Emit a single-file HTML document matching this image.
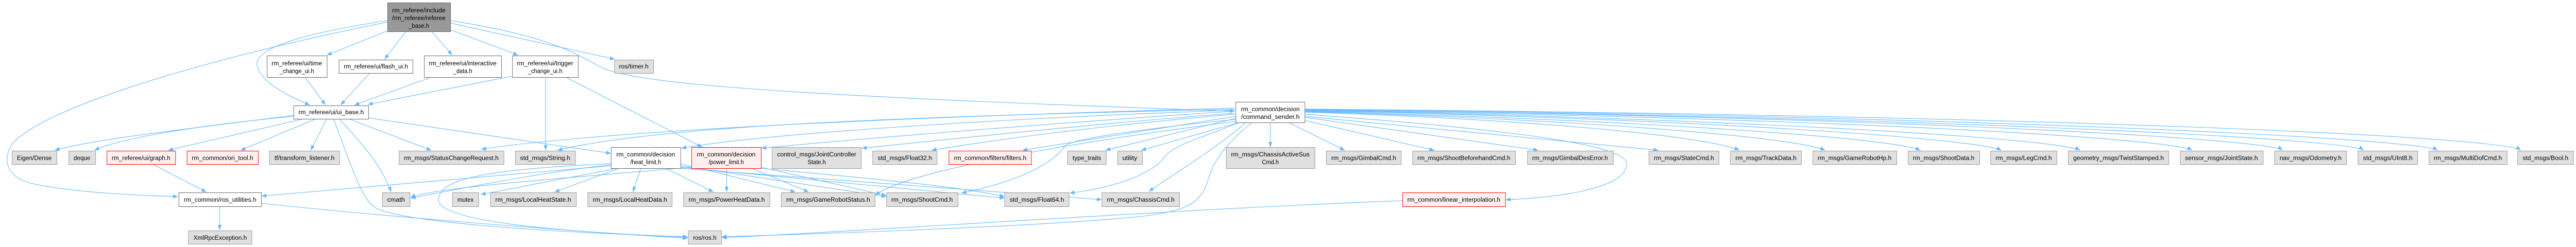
<!DOCTYPE html>
<html><head><meta charset="utf-8"><style>
html,body{margin:0;padding:0;background:#fff;width:100%;height:100%;overflow:hidden;}
svg{display:block;width:100%;height:100%;overflow:hidden;}
text{font-family:"Liberation Sans",Arial,sans-serif;font-size:12px;fill:#000;text-anchor:middle;}
.e{fill:none;stroke:#63b8ff;stroke-width:1.1;marker-end:url(#a);}
.w{fill:#fff;stroke:#666;}
.g{fill:#e0e0e0;stroke:#999;}
.r{fill:#fff0f0;stroke:#f00;}
.k{fill:#999;stroke:#666;}
</style></head><body>
<svg viewBox="0 0 5406 480" preserveAspectRatio="none" xmlns="http://www.w3.org/2000/svg">
<defs><marker id="a" markerWidth="10" markerHeight="8" refX="10" refY="4" orient="auto" markerUnits="userSpaceOnUse"><path d="M0,0 L10,4 L0,8 Z" fill="#63b8ff"/></marker></defs>

<g>
<path class="e" d="M813,60 L686,107"/>
<path class="e" d="M852,61 L807,115"/>
<path class="e" d="M906,61 L949,107"/>
<path class="e" d="M946,58 L1087,107"/>
<path class="e" d="M946,45 L1290,115"/>
<path class="e" d="M946,40 C1150,70 1200,100 1260,130 C1320,160 1600,185 2591,216"/>
<path class="e" d="M813,40 C600,70 530,100 540,130 C550,160 600,185 650,204"/>
<path class="e" d="M813,43 C500,100 100,200 25,280 C0,320 25,345 60,355 C150,375 300,380 373,382"/>
<path class="e" d="M640,150 L683,204"/>
<path class="e" d="M775,143 L715,204"/>
<path class="e" d="M905,150 L744,204"/>
<path class="e" d="M1075,148 L772,203"/>
<path class="e" d="M1145,150 L1145,292"/>
<path class="e" d="M1187,150 L1474,286"/>
<path class="e" d="M617,224 C400,250 200,270 115,292"/>
<path class="e" d="M617,226 C400,245 250,270 198,292"/>
<path class="e" d="M637,231 L353,292"/>
<path class="e" d="M663,231 L505,292"/>
<path class="e" d="M686,231 L652,292"/>
<path class="e" d="M712,231 C760,280 800,320 821,373"/>
<path class="e" d="M700,231 C740,330 760,390 790,405 C850,430 1100,450 1443,460"/>
<path class="e" d="M732,231 L905,292"/>
<path class="e" d="M773,229 L1282,298"/>
<path class="e" d="M322,320 L433,373"/>
<path class="e" d="M461,401 L461,447"/>
<path class="e" d="M548,395 C800,420 1200,450 1443,463"/>
<path class="e" d="M1296,327 L1009,378"/>
<path class="e" d="M1300,327 L1164,373"/>
<path class="e" d="M1345,327 L1328,373"/>
<path class="e" d="M1397,327 L1497,373"/>
<path class="e" d="M1428,318 L1669,373"/>
<path class="e" d="M1282,322 C1000,345 700,370 549,381"/>
<path class="e" d="M1282,320 C1100,340 950,370 862,385"/>
<path class="e" d="M1282,318 C1000,330 920,350 920,390 C930,440 1300,455 1443,461"/>
<path class="e" d="M1428,322 L1860,382"/>
<path class="e" d="M1428,325 L2108,385"/>
<path class="e" d="M1428,327 L2312,388"/>
<path class="e" d="M1525,327 L1525,373"/>
<path class="e" d="M1577,327 L1697,373"/>
<path class="e" d="M1451,325 C1200,345 900,365 862,384"/>
<path class="e" d="M1597,325 L1860,380"/>
<path class="e" d="M1597,327 C1800,345 2000,360 2108,382"/>
<path class="e" d="M2591,212 C2000,225 1400,240 1170,292"/>
<path class="e" d="M2591,210 C2000,225 1300,250 1010,290"/>
<path class="e" d="M2591,214 C2100,230 1600,260 1430,288"/>
<path class="e" d="M2591,216 C2200,240 1800,270 1598,288"/>
<path class="e" d="M2591,220 C2300,240 2000,270 1809,288"/>
<path class="e" d="M2591,222 C2300,245 2100,270 1955,292"/>
<path class="e" d="M2593,226 L2146,292"/>
<path class="e" d="M2593,230 L2320,292"/>
<path class="e" d="M2600,238 L2395,292"/>
<path class="e" d="M2666,238 L2666,286"/>
<path class="e" d="M2593,232 C2400,250 2250,270 2236,283 C2200,330 2100,360 2018,375"/>
<path class="e" d="M2600,238 C2520,270 2460,280 2440,310 C2400,350 2300,370 2245,375"/>
<path class="e" d="M2615,238 C2550,290 2460,340 2411,372"/>
<path class="e" d="M2627,238 C2560,290 2545,320 2535,350 C2520,400 2480,410 2400,420 C2200,440 1700,455 1515,460"/>
<path class="e" d="M2593,236 C2300,270 1900,330 1837,380"/>
<path class="e" d="M2704,238 L2822,292"/>
<path class="e" d="M2738,234 L3010,292"/>
<path class="e" d="M2738,228 L3228,292"/>
<path class="e" d="M2738,226 L3480,292"/>
<path class="e" d="M2738,222 C3150,250 3420,280 3414,320 C3410,370 3250,385 3160,388"/>
<path class="e" d="M2738,218 C3300,235 3600,270 3650,292"/>
<path class="e" d="M2738,217 C3400,235 3780,270 3830,292"/>
<path class="e" d="M2738,216 C3500,235 3980,270 4030,292"/>
<path class="e" d="M2738,215 C3600,232 4150,270 4200,292"/>
<path class="e" d="M2738,214 C3700,232 4320,270 4365,292"/>
<path class="e" d="M2738,214 C3900,230 4560,270 4600,292"/>
<path class="e" d="M2738,213 C4000,228 4760,270 4790,292"/>
<path class="e" d="M2738,213 C4100,228 4930,270 4960,292"/>
<path class="e" d="M2738,212 C4200,226 5080,270 5115,292"/>
<path class="e" d="M2738,212 C4300,224 5250,265 5290,292"/>
<path class="e" d="M2943,390 C2500,405 1800,450 1515,462"/>
</g>

<g>
<rect class="k" x="813.5" y="5.5" width="132" height="56"/>
<text x="879" y="24" textLength="112" lengthAdjust="spacingAndGlyphs">rm_referee/include</text>
<text x="879" y="39" textLength="112" lengthAdjust="spacingAndGlyphs">/rm_referee/referee</text>
<text x="879" y="54">_base.h</text>

<rect class="w" x="560.5" y="108.5" width="126" height="42"/>
<text x="623" y="127" textLength="106" lengthAdjust="spacingAndGlyphs">rm_referee/ui/time</text>
<text x="623" y="142">_change_ui.h</text>
<rect class="w" x="711.5" y="116.5" width="155" height="26"/>
<text x="789" y="133" textLength="135" lengthAdjust="spacingAndGlyphs">rm_referee/ui/flash_ui.h</text>
<rect class="w" x="890.5" y="108.5" width="162" height="42"/>
<text x="971" y="127" textLength="142" lengthAdjust="spacingAndGlyphs">rm_referee/ui/interactive</text>
<text x="971" y="142">_data.h</text>
<rect class="w" x="1075.5" y="108.5" width="138" height="42"/>
<text x="1144" y="127" textLength="118" lengthAdjust="spacingAndGlyphs">rm_referee/ui/trigger</text>
<text x="1144" y="142">_change_ui.h</text>
<rect class="g" x="1289.5" y="116.5" width="82" height="26"/>
<text x="1330" y="133" textLength="62" lengthAdjust="spacingAndGlyphs">ros/timer.h</text>

<rect class="w" x="616.5" y="205.5" width="157" height="26"/>
<text x="695" y="222" textLength="137" lengthAdjust="spacingAndGlyphs">rm_referee/ui/ui_base.h</text>
<rect class="w" x="2593.5" y="198.5" width="145" height="40"/>
<text x="2666" y="216" textLength="123" lengthAdjust="spacingAndGlyphs">rm_common/decision</text>
<text x="2666" y="231" textLength="123" lengthAdjust="spacingAndGlyphs">/command_sender.h</text>

<rect class="g" x="25.5" y="293.5" width="94" height="26"/>
<text x="72" y="311" textLength="73" lengthAdjust="spacingAndGlyphs">Eigen/Dense</text>
<rect class="g" x="144.5" y="293.5" width="56" height="26"/>
<text x="172" y="311" textLength="35" lengthAdjust="spacingAndGlyphs">deque</text>
<rect class="r" x="224.5" y="293.5" width="144" height="26"/>
<text x="296" y="311" textLength="123" lengthAdjust="spacingAndGlyphs">rm_referee/ui/graph.h</text>
<rect class="r" x="392.5" y="293.5" width="150" height="26"/>
<text x="467" y="311" textLength="129" lengthAdjust="spacingAndGlyphs">rm_common/ori_tool.h</text>
<rect class="g" x="565.5" y="293.5" width="147" height="26"/>
<text x="639" y="311" textLength="126" lengthAdjust="spacingAndGlyphs">tf/transform_listener.h</text>
<rect class="g" x="837.5" y="293.5" width="220" height="26"/>
<text x="947" y="311" textLength="199" lengthAdjust="spacingAndGlyphs">rm_msgs/StatusChangeRequest.h</text>
<rect class="g" x="1081.5" y="293.5" width="126" height="26"/>
<text x="1144" y="311" textLength="105" lengthAdjust="spacingAndGlyphs">std_msgs/String.h</text>
<rect class="w" x="1282.5" y="286.5" width="146" height="41"/>
<text x="1355" y="304" textLength="123" lengthAdjust="spacingAndGlyphs">rm_common/decision</text>
<text x="1355" y="319">/heat_limit.h</text>
<rect class="r" x="1451.5" y="286.5" width="146" height="41"/>
<text x="1524" y="304" textLength="123" lengthAdjust="spacingAndGlyphs">rm_common/decision</text>
<text x="1524" y="319">/power_limit.h</text>
<rect class="g" x="1620.5" y="286.5" width="187" height="41"/>
<text x="1714" y="304" textLength="166" lengthAdjust="spacingAndGlyphs">control_msgs/JointController</text>
<text x="1714" y="319">State.h</text>
<rect class="g" x="1831.5" y="293.5" width="135" height="26"/>
<text x="1899" y="311" textLength="114" lengthAdjust="spacingAndGlyphs">std_msgs/Float32.h</text>
<rect class="r" x="1991.5" y="293.5" width="173" height="26"/>
<text x="2078" y="311" textLength="152" lengthAdjust="spacingAndGlyphs">rm_common/filters/filters.h</text>
<rect class="g" x="2240.5" y="293.5" width="81" height="26"/>
<text x="2281" y="311" textLength="60" lengthAdjust="spacingAndGlyphs">type_traits</text>
<rect class="g" x="2345.5" y="293.5" width="52" height="26"/>
<text x="2371" y="311" textLength="31" lengthAdjust="spacingAndGlyphs">utility</text>
<rect class="g" x="2573.5" y="286.5" width="186" height="41"/>
<text x="2666" y="304" textLength="165" lengthAdjust="spacingAndGlyphs">rm_msgs/ChassisActiveSus</text>
<text x="2666" y="319">Cmd.h</text>
<rect class="g" x="2783.5" y="293.5" width="157" height="26"/>
<text x="2862" y="311" textLength="136" lengthAdjust="spacingAndGlyphs">rm_msgs/GimbalCmd.h</text>
<rect class="g" x="2964.5" y="293.5" width="216" height="26"/>
<text x="3072" y="311" textLength="195" lengthAdjust="spacingAndGlyphs">rm_msgs/ShootBeforehandCmd.h</text>
<rect class="g" x="3205.5" y="293.5" width="180" height="26"/>
<text x="3295" y="311" textLength="159" lengthAdjust="spacingAndGlyphs">rm_msgs/GimbalDesError.h</text>
<rect class="g" x="3460.5" y="293.5" width="147" height="26"/>
<text x="3534" y="311" textLength="126" lengthAdjust="spacingAndGlyphs">rm_msgs/StateCmd.h</text>
<rect class="g" x="3631.5" y="293.5" width="149" height="26"/>
<text x="3706" y="311" textLength="128" lengthAdjust="spacingAndGlyphs">rm_msgs/TrackData.h</text>
<rect class="g" x="3804.5" y="293.5" width="176" height="26"/>
<text x="3892" y="311" textLength="155" lengthAdjust="spacingAndGlyphs">rm_msgs/GameRobotHp.h</text>
<rect class="g" x="4004.5" y="293.5" width="150" height="26"/>
<text x="4079" y="311" textLength="129" lengthAdjust="spacingAndGlyphs">rm_msgs/ShootData.h</text>
<rect class="g" x="4177.5" y="293.5" width="139" height="26"/>
<text x="4247" y="311" textLength="118" lengthAdjust="spacingAndGlyphs">rm_msgs/LegCmd.h</text>
<rect class="g" x="4340.5" y="293.5" width="211" height="26"/>
<text x="4446" y="311" textLength="190" lengthAdjust="spacingAndGlyphs">geometry_msgs/TwistStamped.h</text>
<rect class="g" x="4575.5" y="293.5" width="174" height="26"/>
<text x="4662" y="311" textLength="153" lengthAdjust="spacingAndGlyphs">sensor_msgs/JointState.h</text>
<rect class="g" x="4773.5" y="293.5" width="151" height="26"/>
<text x="4849" y="311" textLength="130" lengthAdjust="spacingAndGlyphs">nav_msgs/Odometry.h</text>
<rect class="g" x="4948.5" y="293.5" width="125" height="26"/>
<text x="5011" y="311" textLength="104" lengthAdjust="spacingAndGlyphs">std_msgs/UInt8.h</text>
<rect class="g" x="5097.5" y="293.5" width="164" height="26"/>
<text x="5179" y="311" textLength="143" lengthAdjust="spacingAndGlyphs">rm_msgs/MultiDofCmd.h</text>
<rect class="g" x="5283.5" y="293.5" width="117" height="26"/>
<text x="5342" y="311" textLength="96" lengthAdjust="spacingAndGlyphs">std_msgs/Bool.h</text>

<rect class="w" x="375.5" y="374.5" width="173" height="27"/>
<text x="462" y="392" textLength="152" lengthAdjust="spacingAndGlyphs">rm_common/ros_utilities.h</text>
<rect class="g" x="802.5" y="374.5" width="58" height="27"/>
<text x="831" y="392" textLength="37" lengthAdjust="spacingAndGlyphs">cmath</text>
<rect class="g" x="949.5" y="374.5" width="55" height="27"/>
<text x="977" y="392" textLength="34" lengthAdjust="spacingAndGlyphs">mutex</text>
<rect class="g" x="1029.5" y="374.5" width="180" height="27"/>
<text x="1119" y="392" textLength="159" lengthAdjust="spacingAndGlyphs">rm_msgs/LocalHeatState.h</text>
<rect class="g" x="1233.5" y="374.5" width="177" height="27"/>
<text x="1322" y="392" textLength="156" lengthAdjust="spacingAndGlyphs">rm_msgs/LocalHeatData.h</text>
<rect class="g" x="1434.5" y="374.5" width="181" height="27"/>
<text x="1525" y="392" textLength="160" lengthAdjust="spacingAndGlyphs">rm_msgs/PowerHeatData.h</text>
<rect class="g" x="1639.5" y="374.5" width="197" height="27"/>
<text x="1738" y="392" textLength="176" lengthAdjust="spacingAndGlyphs">rm_msgs/GameRobotStatus.h</text>
<rect class="g" x="1860.5" y="374.5" width="150" height="27"/>
<text x="1935" y="392" textLength="129" lengthAdjust="spacingAndGlyphs">rm_msgs/ShootCmd.h</text>
<rect class="g" x="2108.5" y="374.5" width="135" height="27"/>
<text x="2176" y="392" textLength="114" lengthAdjust="spacingAndGlyphs">std_msgs/Float64.h</text>
<rect class="g" x="2312.5" y="374.5" width="163" height="27"/>
<text x="2394" y="392" textLength="142" lengthAdjust="spacingAndGlyphs">rm_msgs/ChassisCmd.h</text>
<rect class="r" x="2943.5" y="374.5" width="216" height="27"/>
<text x="3051" y="392" textLength="195" lengthAdjust="spacingAndGlyphs">rm_common/linear_interpolation.h</text>

<rect class="g" x="395.5" y="448.5" width="133" height="26"/>
<text x="462" y="466" textLength="112" lengthAdjust="spacingAndGlyphs">XmlRpcException.h</text>
<rect class="g" x="1444.5" y="448.5" width="70" height="26"/>
<text x="1479" y="466" textLength="49" lengthAdjust="spacingAndGlyphs">ros/ros.h</text>
</g>
</svg>
</body></html>
